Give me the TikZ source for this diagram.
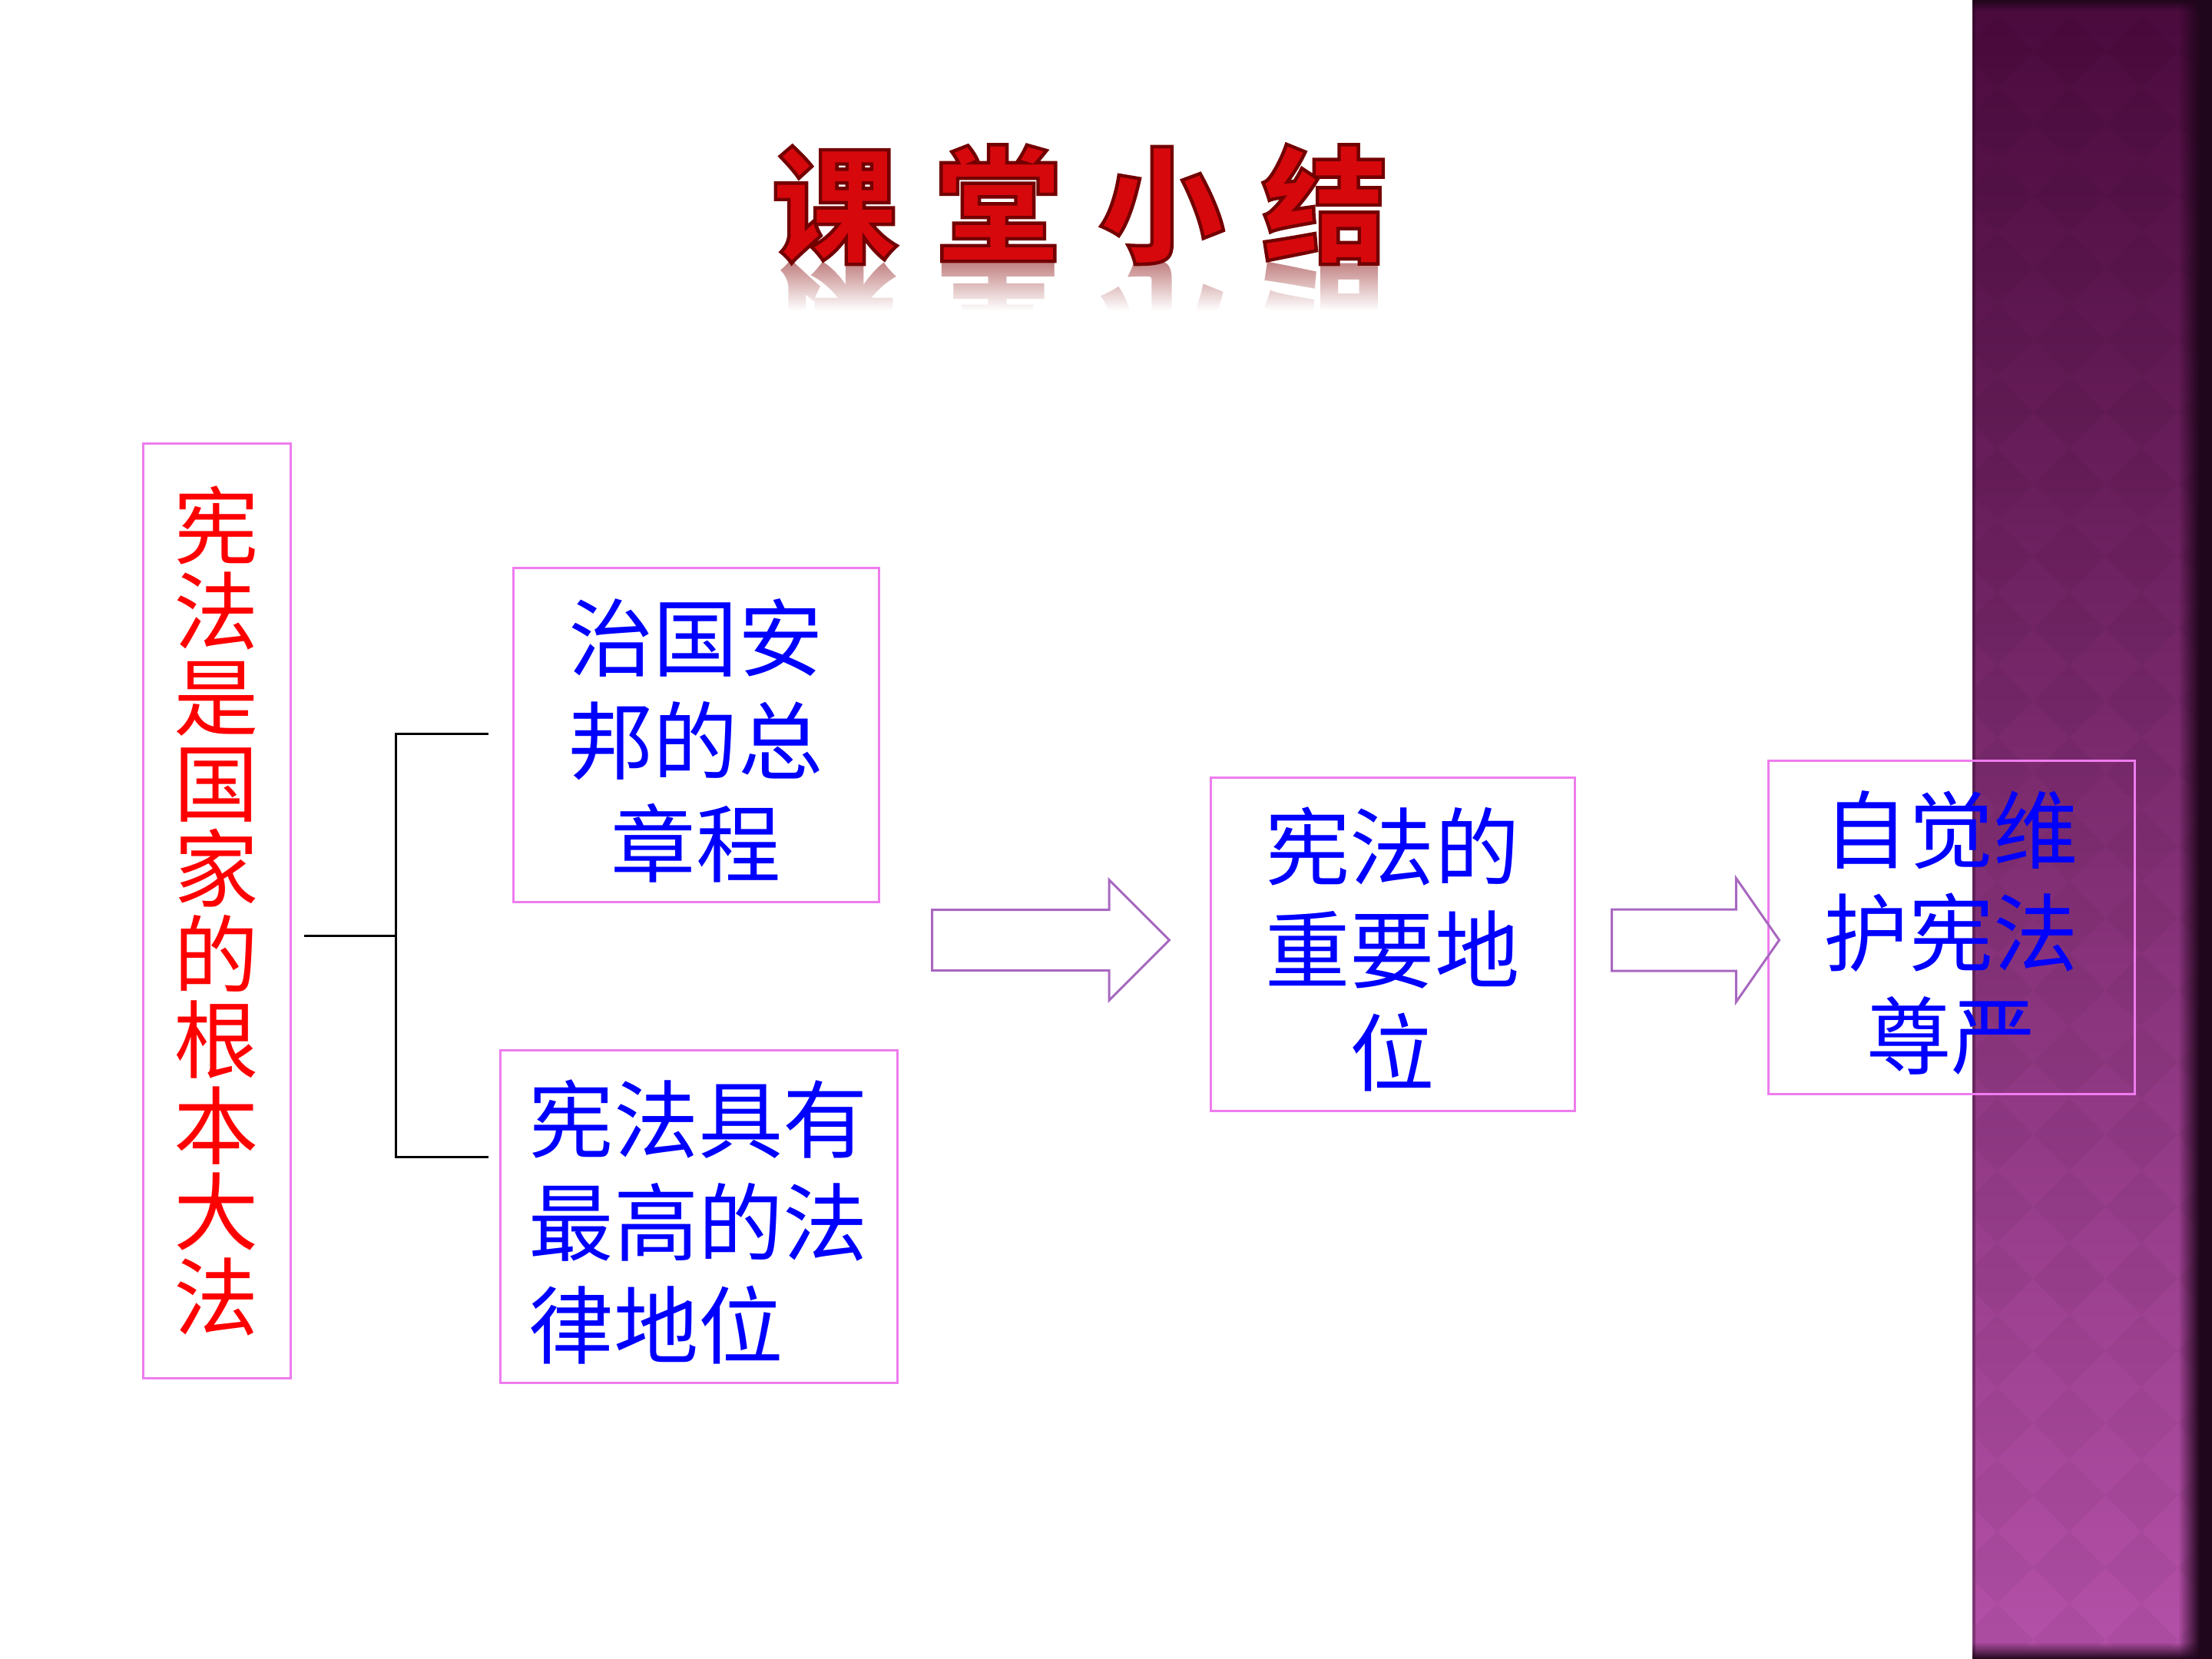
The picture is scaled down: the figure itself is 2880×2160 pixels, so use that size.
\documentclass[tikz,border=0pt]{standalone}
\usepackage{fontspec}
\setmainfont{Noto Sans CJK SC}
\usepackage{graphicx}
\usetikzlibrary{shapes.arrows,fadings}
\definecolor{boxpink}{RGB}{238,124,238}
\definecolor{arrowpurple}{RGB}{168,104,192}
\definecolor{titlered}{RGB}{214,8,12}
\definecolor{sbtop}{RGB}{74,10,60}
\definecolor{sbbot}{RGB}{180,80,168}
\definecolor{sbedge}{RGB}{32,6,28}
\tikzfading[name=opaqueright,left color=transparent!100,right color=transparent!0]
\tikzfading[name=opaquetop,top color=transparent!0,bottom color=transparent!100]
\tikzfading[name=opaquebottom,top color=transparent!100,bottom color=transparent!0]
\newcommand\lift{\rule{0pt}{0.98em}}
\begin{document}
\begin{tikzpicture}[x=0.25pt,y=-0.25pt,
  box/.style={draw=boxpink,line width=0.75pt,inner sep=0pt,text=blue,
    font=\fontsize{27.6}{33.5}\selectfont,align=center},
  redcol/.style={draw=boxpink,line width=0.75pt,inner sep=0pt,text=red,
    font=\fontsize{27.6}{27.9}\selectfont,align=center},
  link/.style={draw=black,line width=0.75pt},
  blockarrow/.style={single arrow,draw=arrowpurple,line width=0.75pt,inner xsep=0pt,anchor=tail},
  titletext/.style={font=\fontsize{41}{41}\selectfont\bfseries,inner sep=0pt}
]
% background
\fill[white] (0,0) rectangle (2880,2160);
% sidebar
\shade[top color=sbtop,bottom color=sbbot] (2568,0) rectangle (2880,2160);
\begin{scope}
  \clip (2572,12) rectangle (2862,2145);
  \foreach \m in {0,...,3}{
    \foreach \n in {0,...,22}{
      \fill[black,opacity=0.035] ({2600+94*\m},{20+94*\n}) -- ++(47,47) -- ++(-47,47) -- ++(-47,-47) -- cycle;
    }
  }
\end{scope}
\fill[sbedge,opacity=0.35] (2568,0) rectangle (2572,2160);
\fill[sbedge,path fading=opaqueright] (2836,0) rectangle (2864,2160);
\fill[sbedge] (2864,0) rectangle (2880,2160);
\fill[sbedge,path fading=opaquetop] (2568,0) rectangle (2880,14);
\fill[sbedge,path fading=opaquebottom] (2568,2138) rectangle (2880,2160);

% title and its reflection
\node[titletext,text=titlered!45!gray,opacity=0.75] (titlerefl) at (1406,414)
  {\scalebox{1}[-1]{\spaceskip=12.2pt 课 堂 小 结}};
\fill[white,path fading=opaquebottom] (940,336) rectangle (1870,404);
\fill[white] (940,404) rectangle (1870,500);
\node[titletext,text=titlered] (title) at (1406,266)
  {\spaceskip=12.2pt \special{pdf:literal direct 2 Tr 1.1 w 0.45 0 0 RG}课 堂 小 结\special{pdf:literal direct 0 Tr}};

% boxes
\node[redcol,minimum width=48pt,minimum height=304pt] (left) at (282,1186)
  {宪\\法\\是\\国\\家\\的\\根\\本\\大\\法};
\node[box,minimum width=119pt,minimum height=108.5pt] (b2) at (906,957)
  {\lift 治国安\\邦的总\\章程};
\node[box,align=left,minimum width=129.25pt,minimum height=108.25pt] (b3) at (909.5,1583.5)
  {\lift 宪法具有\\最高的法\\律地位};
\node[box,minimum width=118.5pt,minimum height=108.5pt] (b4) at (1813,1229)
  {\lift 宪法的\\重要地\\位};
\node[box,minimum width=119.25pt,minimum height=108.5pt] (b5) at (2540.5,1207)
  {\lift 自觉维\\护宪法\\尊严};

% bracket connector
\coordinate (jL) at (396,1218);
\coordinate (jM) at (515,1218);
\coordinate (jT) at (515,955);
\coordinate (jB) at (515,1506);
\coordinate (eT) at (636,955);
\coordinate (eB) at (636,1506);
\draw[link] (jL) -- (jM);
\draw[link] (eT) -- (jT) -- (jB) -- (eB);

% block arrows
\node[blockarrow,minimum height=77.25pt,inner ysep=9.5pt,
  single arrow head extend=9.75pt,single arrow tip angle=90] (a1) at (1212,1224) {};
\node[blockarrow,minimum height=54.5pt,inner ysep=9.625pt,
  single arrow head extend=10.125pt,single arrow tip angle=110.3] (a2) at (2097,1224) {};
\end{tikzpicture}
\end{document}
